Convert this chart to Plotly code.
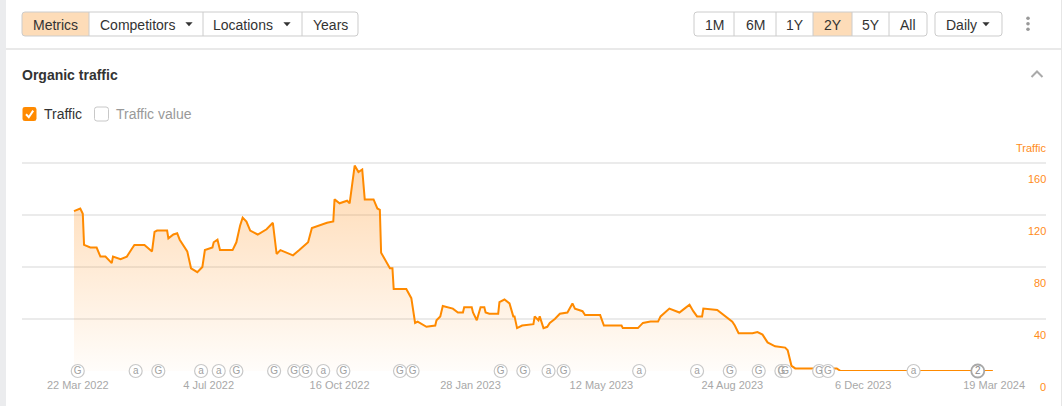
import plotly.graph_objects as go

# ---------------- data ----------------
dates = [
    "2022-03-19", "2022-03-24", "2022-03-26", "2022-03-27", "2022-04-01", "2022-04-06", "2022-04-09", "2022-04-13", "2022-04-18", "2022-04-19",
    "2022-04-25", "2022-04-30", "2022-05-04", "2022-05-06", "2022-05-14", "2022-05-20", "2022-05-22", "2022-05-24", "2022-06-01", "2022-06-02",
    "2022-06-06", "2022-06-09", "2022-06-11", "2022-06-17", "2022-06-20", "2022-06-25", "2022-06-29", "2022-07-01", "2022-07-07", "2022-07-08",
    "2022-07-11", "2022-07-13", "2022-07-23", "2022-07-26", "2022-07-29", "2022-07-31", "2022-08-03", "2022-08-06", "2022-08-12", "2022-08-19",
    "2022-08-24", "2022-08-27", "2022-08-30", "2022-09-09", "2022-09-14", "2022-09-21", "2022-09-24", "2022-09-30", "2022-10-06", "2022-10-11",
    "2022-10-12", "2022-10-16", "2022-10-22", "2022-10-24", "2022-10-27", "2022-10-28", "2022-10-31", "2022-11-03", "2022-11-05", "2022-11-12",
    "2022-11-15", "2022-11-17", "2022-11-18", "2022-11-23", "2022-11-25", "2022-11-27", "2022-11-28", "2022-12-08", "2022-12-12", "2022-12-15",
    "2022-12-17", "2022-12-24", "2022-12-31", "2023-01-01", "2023-01-04", "2023-01-06", "2023-01-14", "2023-01-18", "2023-01-22", "2023-01-23",
    "2023-01-29", "2023-01-30", "2023-02-02", "2023-02-05", "2023-02-08", "2023-02-09", "2023-02-12", "2023-02-19", "2023-02-20", "2023-02-24",
    "2023-02-28", "2023-03-03", "2023-03-04", "2023-03-06", "2023-03-10", "2023-03-19", "2023-03-20", "2023-03-23", "2023-03-24", "2023-03-27",
    "2023-03-30", "2023-04-01", "2023-04-05", "2023-04-09", "2023-04-15", "2023-04-19", "2023-04-21", "2023-04-27", "2023-04-29", "2023-05-11",
    "2023-05-14", "2023-05-20", "2023-05-28", "2023-05-29", "2023-06-10", "2023-06-14", "2023-06-20", "2023-06-26", "2023-06-28", "2023-07-05",
    "2023-07-13", "2023-07-17", "2023-07-21", "2023-07-24", "2023-07-27", "2023-07-31", "2023-08-01", "2023-08-12", "2023-08-17", "2023-08-21",
    "2023-08-24", "2023-08-26", "2023-08-29", "2023-09-09", "2023-09-13", "2023-09-17", "2023-09-21", "2023-09-27", "2023-10-05", "2023-10-07",
    "2023-10-10", "2023-10-13", "2023-11-15", "2023-11-18", "2024-03-18",
]
traffic = [
    123, 125, 121, 97, 95, 95, 88, 88, 83, 88,
    86, 88, 94, 97, 97, 92, 107, 108, 108, 102,
    105, 106, 101, 92, 79, 76, 80, 93, 95, 99,
    101, 93, 93, 99, 112, 118, 115, 108, 105, 109,
    114, 90, 93, 89, 93, 99, 110, 112, 114, 115,
    132, 129, 131, 129, 154, 158, 153, 155, 132, 132,
    125, 124, 91, 82, 79, 79, 63, 63, 56, 37,
    38, 34, 35, 39, 42, 50, 48, 45, 45, 49,
    49, 45, 39, 49, 49, 45, 44, 44, 53, 55,
    52, 42, 42, 33, 35, 36, 42, 39, 42, 33,
    34, 37, 40, 44, 45, 52, 48, 46, 43, 43,
    35, 35, 35, 33, 33, 37, 38, 38, 42, 48,
    45, 48, 51, 46, 42, 42, 48, 47, 43, 40,
    38, 35, 29, 29, 30, 28, 22, 19, 18, 16,
    4, 2, 2, 0, 0,
]

event_dates = [
    "2022-03-22", "2022-05-07", "2022-05-25", "2022-06-28", "2022-07-12", "2022-07-26", "2022-08-25",
    "2022-09-10", "2022-09-19", "2022-10-03", "2022-10-19", "2022-12-03", "2022-12-13", "2023-02-21",
    "2023-03-11", "2023-03-31", "2023-04-12", "2023-06-11", "2023-07-27", "2023-08-22", "2023-09-14",
    "2023-10-02", "2023-10-05", "2023-11-01", "2023-11-08", "2024-01-15", "2024-03-06",
]
event_labels = [
    "G", "a", "G", "a", "a", "G", "G",
    "G", "G", "a", "G", "G", "G", "G",
    "G", "a", "G", "a", "a", "G", "G",
    "G", "G", "G", "G", "a", "2",
]

x_tick_dates = ["2022-03-22", "2022-07-04", "2022-10-16", "2023-01-28",
                "2023-05-12", "2023-08-24", "2023-12-06", "2024-03-19"]
x_tick_text = ["22 Mar 2022", "4 Jul 2022", "16 Oct 2022", "28 Jan 2023",
               "12 May 2023", "24 Aug 2023", "6 Dec 2023", "19 Mar 2024"]
y_ticks = [0, 40, 80, 120, 160]

nav_buttons = ["Metrics", "Competitors", "Locations", "Years"]
period_buttons = ["1M", "6M", "1Y", "2Y", "5Y", "All"]

# ---------------- layout geometry ----------------
W, H = 1063, 406
ML, MR, MT, MB = 22, 17, 150, 35
PW = W - ML - MR
PH = H - MT - MB
FONT = "Liberation Sans, Arial, sans-serif"
ORANGE = "#ff8a00"


def px(x):
    return (x - ML) / PW


def py(y):
    return (H - MB - y) / PH


def P(x, y):
    return f"{px(x):.5f},{py(y):.5f}"


def rpath(x0, y0, x1, y1, r=3, rl=True, rr=True):
    a = r if rl else 0
    b = r if rr else 0
    return (f"M {P(x0 + a, y0)} L {P(x1 - b, y0)} Q {P(x1, y0)} {P(x1, y0 + b)} "
            f"L {P(x1, y1 - b)} Q {P(x1, y1)} {P(x1 - b, y1)} L {P(x0 + a, y1)} "
            f"Q {P(x0, y1)} {P(x0, y1 - a)} L {P(x0, y0 + a)} Q {P(x0, y0)} {P(x0 + a, y0)} Z")


shapes = []
annotations = []


def line(x0, y0, x1, y1, color, width=1):
    shapes.append(dict(type="line", xref="paper", yref="paper",
                       x0=px(x0), y0=py(y0), x1=px(x1), y1=py(y1),
                       line=dict(color=color, width=width), layer="below"))


def path(d, fill=None, color=None, width=1, layer="above"):
    shapes.append(dict(type="path", xref="paper", yref="paper", path=d,
                       fillcolor=fill if fill else "rgba(0,0,0,0)",
                       line=dict(color=color if color else "rgba(0,0,0,0)", width=width if color else 0),
                       layer=layer))


def text(t, x, y, size=14, color="#333333", anchor="center", bold=False):
    shift = {"left": -2, "right": 1.5}.get(anchor, 0)
    annotations.append(dict(text=f"<b>{t}</b>" if bold else t, xref="paper", yref="paper",
                            x=px(x), y=py(y), xanchor=anchor, yanchor="middle", xshift=shift,
                            showarrow=False, font=dict(family=FONT, size=size, color=color)))


# page frame
shapes.append(dict(type="rect", xref="paper", yref="paper", x0=px(0), x1=px(6), y0=py(0), y1=py(H),
                   fillcolor="#ebecee", line=dict(width=0), layer="below"))
line(6, 49, 1061, 49, "#e2e2e2", 1.5)
line(1061.5, 0, 1061.5, H, "#e6e6e6", 1)

# left toolbar group
nav_edges = [22, 89, 203, 302, 358]
path(rpath(22, 12, 89, 36, 3, rl=True, rr=False), fill="#fddcb8", layer="below")
path(rpath(22, 12, 358, 36, 3), color="#cccccc", width=1)
for e in nav_edges[1:-1]:
    line(e, 12, e, 36, "#cccccc", 1)
nav_text_x = [55, 137, 243, 330]
for t, cx in zip(nav_buttons, nav_text_x):
    text(t, cx, 24.5)
for ax_ in (189, 287):
    path(f"M {P(ax_ - 3.6, 22.3)} L {P(ax_ + 3.6, 22.3)} L {P(ax_, 26.3)} Z", fill="#333333")

# right toolbar group
per_edges = [694, 734, 776, 813, 852, 889, 927]
path(rpath(813, 12, 852, 36, 0), fill="#fddcb8", layer="below")
path(rpath(694, 12, 927, 36, 3), color="#cccccc", width=1)
for e in per_edges[1:-1]:
    line(e, 12, e, 36, "#cccccc", 1)
for i, t in enumerate(period_buttons):
    text(t, (per_edges[i] + per_edges[i + 1]) / 2, 24.5)
path(rpath(935, 12, 1002, 36, 3), color="#cccccc", width=1)
text("Daily", 961, 24.5)
path(f"M {P(982.4, 22.3)} L {P(989.6, 22.3)} L {P(986, 26.3)} Z", fill="#333333")
for yy in (18.3, 23.8, 29.3):
    shapes.append(dict(type="circle", xref="paper", yref="paper",
                       x0=px(1026.2), x1=px(1029.8), y0=py(yy - 1.8), y1=py(yy + 1.8),
                       fillcolor="#999999", line=dict(width=0)))

# title, collapse chevron, legend checkboxes
text("Organic traffic", 22, 75, size=14, color="#333333", anchor="left", bold=True)
path(f"M {P(1031.5, 77)} L {P(1037, 71.5)} L {P(1042.5, 77)}", color="#aaaaaa", width=2)
path(rpath(22.5, 107, 36.5, 121, 2.5), fill="#ff8a00")
path(f"M {P(26, 114.2)} L {P(28.8, 117.2)} L {P(33.2, 110.6)}", color="#ffffff", width=2)
text("Traffic", 44, 114, size=14, color="#333333", anchor="left")
path(rpath(94.5, 107, 108.5, 121, 2.5), fill="#ffffff", color="#c8c8c8", width=1)
text("Traffic value", 116, 114, size=14, color="#999999", anchor="left")

# y axis labels (placed under their grid lines) and axis title
for v in y_ticks:
    annotations.append(dict(text=str(v), xref="paper", yref="y", x=1, y=v, yshift=-16, xshift=1.5,
                            xanchor="right", yanchor="middle", showarrow=False,
                            font=dict(family=FONT, size=11, color="#ff8c1a")))
text("Traffic", 1046, 147.5, size=11, color="#ff8c1a", anchor="right")

# ---------------- traces ----------------
fig = go.Figure()
fig.add_trace(go.Scatter(
    x=dates, y=traffic, mode="lines", fill="tozeroy",
    line=dict(color=ORANGE, width=2),
    fillgradient=dict(type="vertical", start=0, stop=160,
                      colorscale=[[0, "rgba(255,140,20,0.02)"], [1, "rgba(255,140,20,0.33)"]]),
    hoverinfo="skip", showlegend=False,
))
fig.add_trace(go.Scatter(
    x=event_dates, y=[0] * len(event_dates), mode="markers+text",
    text=event_labels, textposition="middle center",
    textfont=dict(family=FONT, size=10,
                  color=["#888888" if t == "2" else "#a0a0a0" for t in event_labels]),
    marker=dict(symbol="circle", size=13, color="#ffffff",
                line=dict(color=["#a8a8a8" if t == "2" else "#c8c8c8" for t in event_labels],
                          width=[1.8 if t == "2" else 1.2 for t in event_labels])),
    cliponaxis=False, hoverinfo="skip", showlegend=False,
))

fig.update_layout(
    width=W, height=H,
    margin=dict(l=ML, r=MR, t=MT, b=MB, autoexpand=False),
    paper_bgcolor="#ffffff", plot_bgcolor="#ffffff",
    font=dict(family=FONT),
    shapes=shapes, annotations=annotations,
    xaxis=dict(
        type="date", range=["2022-02-05 17:00", "2024-04-29 05:00"],
        tickvals=x_tick_dates, ticktext=x_tick_text,
        showgrid=False, zeroline=False, showline=False, ticks="",
        tickfont=dict(family=FONT, size=11, color="#a8a8a8"),
        ticklabelstandoff=6, fixedrange=True,
    ),
    yaxis=dict(
        range=[0, 170], tickvals=y_ticks, showticklabels=False,
        showgrid=True, gridcolor="#ebebeb", gridwidth=1.5,
        zeroline=False, showline=False, ticks="", fixedrange=True,
    ),
)

fig.write_html(
    "out.html",
    config={"displayModeBar": False},
    post_script="document.body.style.margin='0';document.body.style.padding='0';"
                "document.body.style.overflow='hidden';",
)
